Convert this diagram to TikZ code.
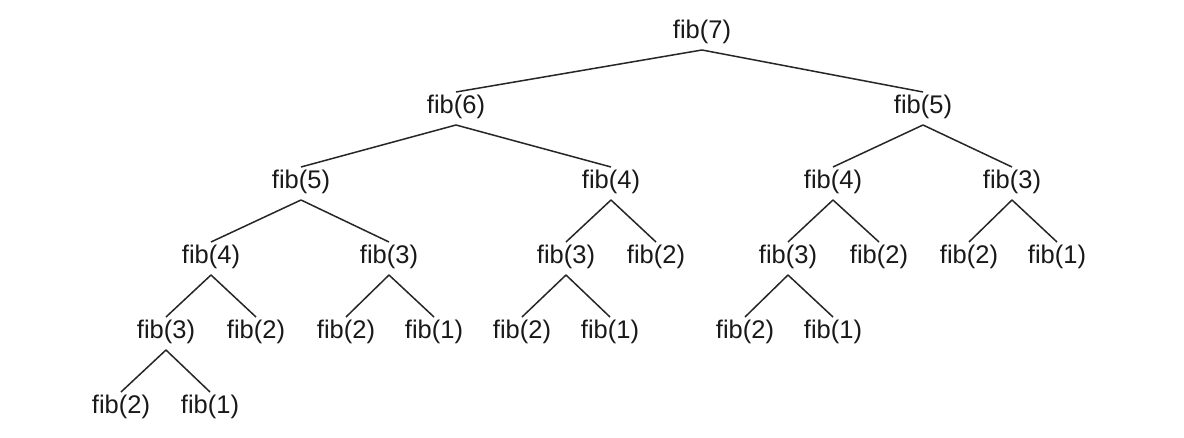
\documentclass[tikz,border=0pt]{standalone}
\usepackage{fontspec}
\setmainfont{Liberation Sans}
\usetikzlibrary{calc}
\tikzset{
  fibnode/.style={inner sep=0pt, font=\fontsize{25.5}{28}\selectfont, text=black!90},
  edge/.style={draw=black!85, line width=1.5pt}
}
\newcommand{\fibedge}[2]{\draw[edge] ($(#1.center)+(0,-18pt)$) -- ($(#2.center)+(0,15pt)$);}
\begin{document}
\begin{tikzpicture}[x=1pt,y=-1pt]
\useasboundingbox[fill=white] (0,0) rectangle (1184,438);
% level 0
\node[fibnode] (r) at (702,32) {fib(7)};
% level 1
\node[fibnode] (a) at (456,107) {fib(6)};
\node[fibnode] (b) at (923,107) {fib(5)};
% level 2
\node[fibnode] (aa) at (301,182) {fib(5)};
\node[fibnode] (ab) at (611,182) {fib(4)};
\node[fibnode] (ba) at (833,182) {fib(4)};
\node[fibnode] (bb) at (1012,182) {fib(3)};
% level 3
\node[fibnode] (aaa) at (211,257) {fib(4)};
\node[fibnode] (aab) at (389,257) {fib(3)};
\node[fibnode] (aba) at (566,257) {fib(3)};
\node[fibnode] (abb) at (656,257) {fib(2)};
\node[fibnode] (baa) at (788,257) {fib(3)};
\node[fibnode] (bab) at (879,257) {fib(2)};
\node[fibnode] (bba) at (969,257) {fib(2)};
\node[fibnode] (bbb) at (1057,257) {fib(1)};
% level 4
\node[fibnode] (aaaa) at (166,332) {fib(3)};
\node[fibnode] (aaab) at (256,332) {fib(2)};
\node[fibnode] (aaba) at (346,332) {fib(2)};
\node[fibnode] (aabb) at (434,332) {fib(1)};
\node[fibnode] (abaa) at (522,332) {fib(2)};
\node[fibnode] (abab) at (610,332) {fib(1)};
\node[fibnode] (baaa) at (745,332) {fib(2)};
\node[fibnode] (baab) at (833,332) {fib(1)};
% level 5
\node[fibnode] (aaaaa) at (121,407) {fib(2)};
\node[fibnode] (aaaab) at (210,407) {fib(1)};
% edges
\fibedge{r}{a} \fibedge{r}{b}
\fibedge{a}{aa} \fibedge{a}{ab}
\fibedge{b}{ba} \fibedge{b}{bb}
\fibedge{aa}{aaa} \fibedge{aa}{aab}
\fibedge{ab}{aba} \fibedge{ab}{abb}
\fibedge{ba}{baa} \fibedge{ba}{bab}
\fibedge{bb}{bba} \fibedge{bb}{bbb}
\fibedge{aaa}{aaaa} \fibedge{aaa}{aaab}
\fibedge{aab}{aaba} \fibedge{aab}{aabb}
\fibedge{aba}{abaa} \fibedge{aba}{abab}
\fibedge{baa}{baaa} \fibedge{baa}{baab}
\fibedge{aaaa}{aaaaa} \fibedge{aaaa}{aaaab}
\end{tikzpicture}
\end{document}
